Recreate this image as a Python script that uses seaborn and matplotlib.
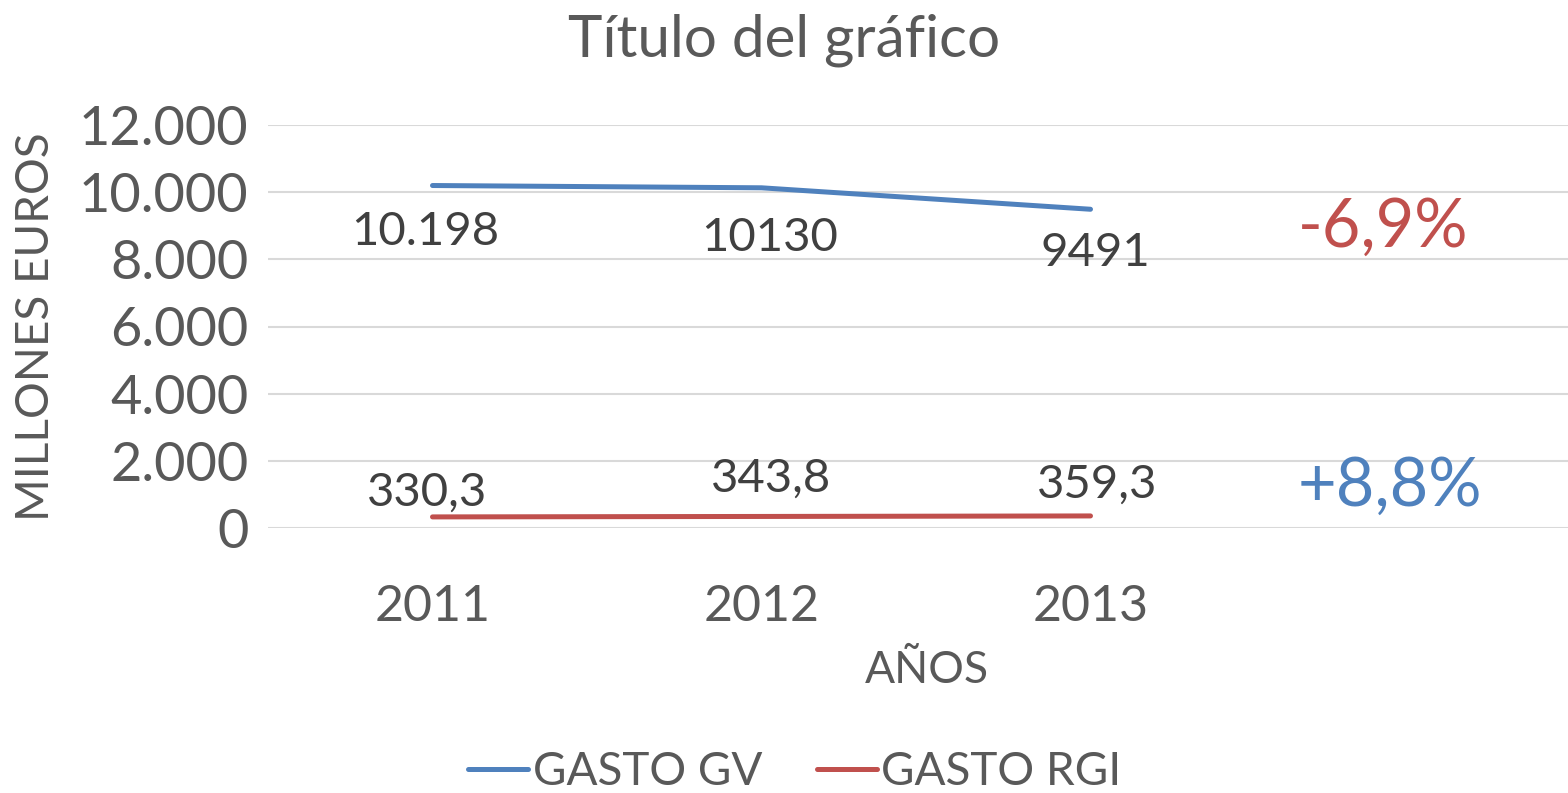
"""Gasto GV y gasto RGI, 2011-2013"""

from matplotlib import pyplot as plt
from matplotlib.lines import Line2D
import pandas as pd
import seaborn as sns

anios = ['2011', '2012', '2013']
gasto_gv = [10198, 10130, 9491]
gasto_rgi = [330.3, 343.8, 359.3]
etiquetas_gv = ['10.198', '10130', '9491']
etiquetas_rgi = ['330,3', '343,8', '359,3']
variaciones = ['-6,9%', '+8,8%']

AZUL = '#4F81BD'
ROJO = '#C0504D'
GRIS = '#595959'
OSCURO = '#404040'

datos = pd.DataFrame({
    'pos': list(range(len(anios))) * 2,
    'valor': gasto_gv + gasto_rgi,
    'serie': ['GASTO GV'] * len(anios) + ['GASTO RGI'] * len(anios),
})

sns.set_style('white')
plt.rcParams['font.family'] = ['Lato', 'DejaVu Sans']

fig = plt.figure(figsize=(15.68, 7.93), dpi=100)
ax = fig.add_axes([268 / 1568, 265 / 793, 1 - 268 / 1568, 403 / 793])

sns.lineplot(
    data=datos, x='pos', y='valor', hue='serie',
    palette={'GASTO GV': AZUL, 'GASTO RGI': ROJO},
    linewidth=3.6, legend=False, ax=ax,
)
for linea in ax.get_lines():
    linea.set_solid_capstyle('round')

ax.set_xlim(-0.5, (1568 - 268) / 329 - 0.5)
ax.set_ylim(0, 12000)
ax.set_yticks(range(0, 12001, 2000))
ax.set_yticklabels([f'{v:,}'.replace(',', '.') for v in range(0, 12001, 2000)])
ax.set_xticks(range(len(anios)))
ax.set_xticklabels(anios)
ax.grid(axis='y', color='#D9D9D9', linewidth=1.5)
ax.set_axisbelow(True)
for lado in ax.spines.values():
    lado.set_visible(False)
ax.tick_params(axis='both', length=0, labelcolor=GRIS)
ax.tick_params(axis='x', pad=40, labelsize=36)
ax.tick_params(axis='y', pad=14, labelsize=39)

ax.set_xlabel('AÑOS', fontsize=32, color=GRIS)
ax.set_ylabel('MILLONES EUROS', fontsize=33, color=GRIS)
ax.yaxis.set_label_coords(57 / 1568, (793 - 327) / 793, transform=fig.transFigure)
ax.xaxis.set_label_coords(927 / 1568, (793 - 650) / 793, transform=fig.transFigure)

fig.text(0.5, (793 - 40) / 793, 'Título del gráfico', ha='center', va='center',
         fontsize=42, color=GRIS)

# Etiquetas de datos
desp_gv = [-46, -50, -44]
desp_rgi = [24, 38, 31]
ajuste_x = [-7, 8, 5]
for i in range(len(anios)):
    ax.annotate(etiquetas_gv[i], (i, gasto_gv[i]), xytext=(ajuste_x[i], desp_gv[i]),
                textcoords='offset pixels', ha='center', va='center',
                fontsize=34, color=OSCURO)
    ax.annotate(etiquetas_rgi[i], (i, gasto_rgi[i]), xytext=(ajuste_x[i] + 2, desp_rgi[i]),
                textcoords='offset pixels', ha='center', va='center',
                fontsize=34, color=OSCURO)

ax.text(2.89, 8933, variaciones[0], ha='center', va='center', fontsize=48, color=ROJO)
ax.text(2.91, 1221, variaciones[1], ha='center', va='center', fontsize=48, color=AZUL)

manejadores = [
    Line2D([], [], color=AZUL, linewidth=3.6, solid_capstyle='round'),
    Line2D([], [], color=ROJO, linewidth=3.6, solid_capstyle='round'),
]
leyenda = fig.legend(manejadores, ['GASTO GV', 'GASTO RGI'], loc='center',
                     bbox_to_anchor=(0.507, (793 - 772) / 793), ncol=2, frameon=False,
                     fontsize=33, handlelength=1.3, handletextpad=0.1, columnspacing=1.2)
for texto in leyenda.get_texts():
    texto.set_color(GRIS)

fig.savefig('out.png', dpi=100)
